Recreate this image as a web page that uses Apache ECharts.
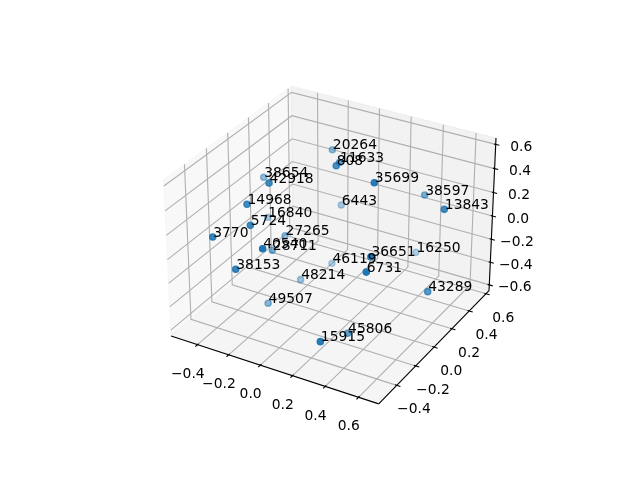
<!DOCTYPE html><html><body style="margin:0;background:#fff"><div id="c" style="width:640px;height:480px"></div>
<script src="https://cdn.jsdelivr.net/npm/echarts@6/dist/echarts.min.js"></script>
<script>
const labels=['38654','42918','14968','20264','11633','808','35699','38597','13843','6443','16840','5724','3770','27265','40540','28711','38153','46119','48214','49507','36651','16250','6731','43289','45806','15915'];
const xs=[-.432,-.170,-.243,-.141,.034,.084,.371,.420,.668,-.082,-.422,-.200,-.323,-.249,-.016,-.226,-.176,-.076,-.144,-.205,.481,.319,.480,.647,.302,.334];
const ys=[.128,-.215,-.316,.370,.157,.041,-.053,.406,.166,.368,.145,-.353,-.520,.052,-.517,-.111,-.532,.259,.041,-.193,-.269,.508,-.313,.047,-.199,-.525];
const zs=[.247,.523,.392,.425,.518,.586,.615,.223,.361,-.023,-.103,.262,.237,-.130,.260,-.129,.039,-.452,-.462,-.516,.212,-.380,.119,-.245,-.556,-.353];
const xTicks=[-.4,-.2,0,.2,.4,.6];
const yTicks=[-.4,-.2,0,.2,.4,.6];
const zTicks=[-.6,-.4,-.2,0,.2,.4,.6];
const lim=[[-.572,.72],[-.585,.635],[-.652,.652]];
const k=1.8294640721620434*25/24/Math.sqrt(41),A=[4*k,4*k,3*k];
const el=Math.PI/6,az=-Math.PI/3;
const w=[Math.cos(el)*Math.cos(az),Math.cos(el)*Math.sin(az),Math.sin(el)];
let u=[-w[1],w[0],0];const n=Math.hypot(...u);u=u.map(a=>a/n);
const v=[w[1]*u[2]-w[2]*u[1],w[2]*u[0]-w[0]*u[2],w[0]*u[1]-w[1]*u[0]];
const dot=(a,b)=>a[0]*b[0]+a[1]*b[1]+a[2]*b[2];
function proj(p){const r=[0,1,2].map(i=>(p[i]-lim[i][0])/(lim[i][1]-lim[i][0])*A[i]-A[i]/2);
 const d=dot(r,w),f=1/(10-d);
 return {sx:143.2+(dot(r,u)*f+.095)/.185*369.6,sy:480-(52.8+(dot(r,v)*f+.095)/.185*369.6),d};}
const [x0,x1]=lim[0],[y0,y1]=lim[1],[z0,z1]=lim[2];
const dx=(x1-x0)/12,dy=(y1-y0)/12;
const items=[];
const poly=(ps,fill)=>items.push({t:'pane',ps,fill});
poly([[x0,y0,z0],[x0,y1,z0],[x0,y1,z1],[x0,y0,z1]],'rgba(242,242,242,.5)');
poly([[x0,y1,z0],[x1,y1,z0],[x1,y1,z1],[x0,y1,z1]],'rgba(230,230,230,.5)');
poly([[x0,y0,z0],[x1,y0,z0],[x1,y1,z0],[x0,y1,z0]],'rgba(236,236,236,.5)');
const line=(ps,color)=>items.push({t:'line',ps,color});
for(const x of xTicks)line([[x,y0,z0],[x,y1,z0],[x,y1,z1]],'#b0b0b0');
for(const y of yTicks)line([[x1,y,z0],[x0,y,z0],[x0,y,z1]],'#b0b0b0');
for(const z of zTicks)line([[x0,y0,z],[x0,y1,z],[x1,y1,z]],'#b0b0b0');
line([[x0,y0,z0],[x1,y0,z0]],'#000');line([[x1,y0,z0],[x1,y1,z0]],'#000');line([[x1,y1,z0],[x1,y1,z1]],'#000');
const fmt=a=>a.toFixed(1).replace('-','\u2212');
for(const x of xTicks){line([[x,y0+.1*dy,z0],[x,y0-.2*dy,z0]],'#000');items.push({t:'text',p:[x,y0,z0],s:fmt(x),ox:-9.7,oy:29.6});}
for(const y of yTicks){line([[x1-.1*dx,y,z0],[x1+.2*dx,y,z0]],'#000');items.push({t:'text',p:[x1,y,z0],s:fmt(y),ox:17.2,oy:24.5});}
for(const z of zTicks){line([[x1-.1*dx,y1,z],[x1+.2*dx,y1,z]],'#000');items.push({t:'text',p:[x1,y1,z],s:fmt(z),ox:25.5,oy:3});}
const FONT='13.89px "DejaVu Sans"';
function frame(params,api){const it=items[params.dataIndex];
 const C=p=>{const q=proj(p);return api.coord([q.sx,q.sy]);};
 if(it.t==='pane')return {type:'polygon',shape:{points:it.ps.map(C)},style:{fill:it.fill,stroke:it.fill,lineWidth:1}};
 if(it.t==='line')return {type:'polyline',shape:{points:it.ps.map(C)},style:{fill:null,stroke:it.color,lineWidth:1.11}};
 const c=C(it.p);return {type:'text',style:{x:c[0]+it.ox,y:c[1]+it.oy,text:it.s,fill:'#000',font:FONT,align:'center',verticalAlign:'middle'}};}
const P=xs.map((_,i)=>proj([xs[i],ys[i],zs[i]]));
const ds=P.map(q=>q.d),dmin=Math.min(...ds),dmax=Math.max(...ds);
const order=P.map((_,i)=>i).sort((a,b)=>P[a].d-P[b].d);
const chart=echarts.init(document.getElementById('c'),null,{renderer:'canvas'});
chart.setOption({animation:false,
 grid:{left:0,right:0,top:0,bottom:0},
 xAxis:{type:'value',min:0,max:640,show:false},
 yAxis:{type:'value',min:0,max:480,inverse:true,show:false},
 series:[
 {type:'custom',coordinateSystem:'cartesian2d',clip:false,silent:true,data:items.map((_,i)=>i),renderItem:frame,z:1},
 {type:'scatter',silent:true,symbolSize:6.2,z:2,data:order.map(i=>({value:[P[i].sx,P[i].sy],itemStyle:{opacity:1-.7*(dmax-P[i].d)/(dmax-dmin)}})),itemStyle:{color:'#1f77b4',borderColor:'#1f77b4',borderWidth:1.39}},
 {type:'custom',coordinateSystem:'cartesian2d',clip:false,silent:true,z:3,data:labels.map((_,i)=>i),renderItem(params,api){const i=params.dataIndex,c=api.coord([P[i].sx,P[i].sy]);return {type:'text',style:{x:c[0]+.5,y:c[1]-4,text:labels[i],fill:'#000',font:FONT,align:'left',verticalAlign:'middle'}};}}
 ]});
</script></body></html>
